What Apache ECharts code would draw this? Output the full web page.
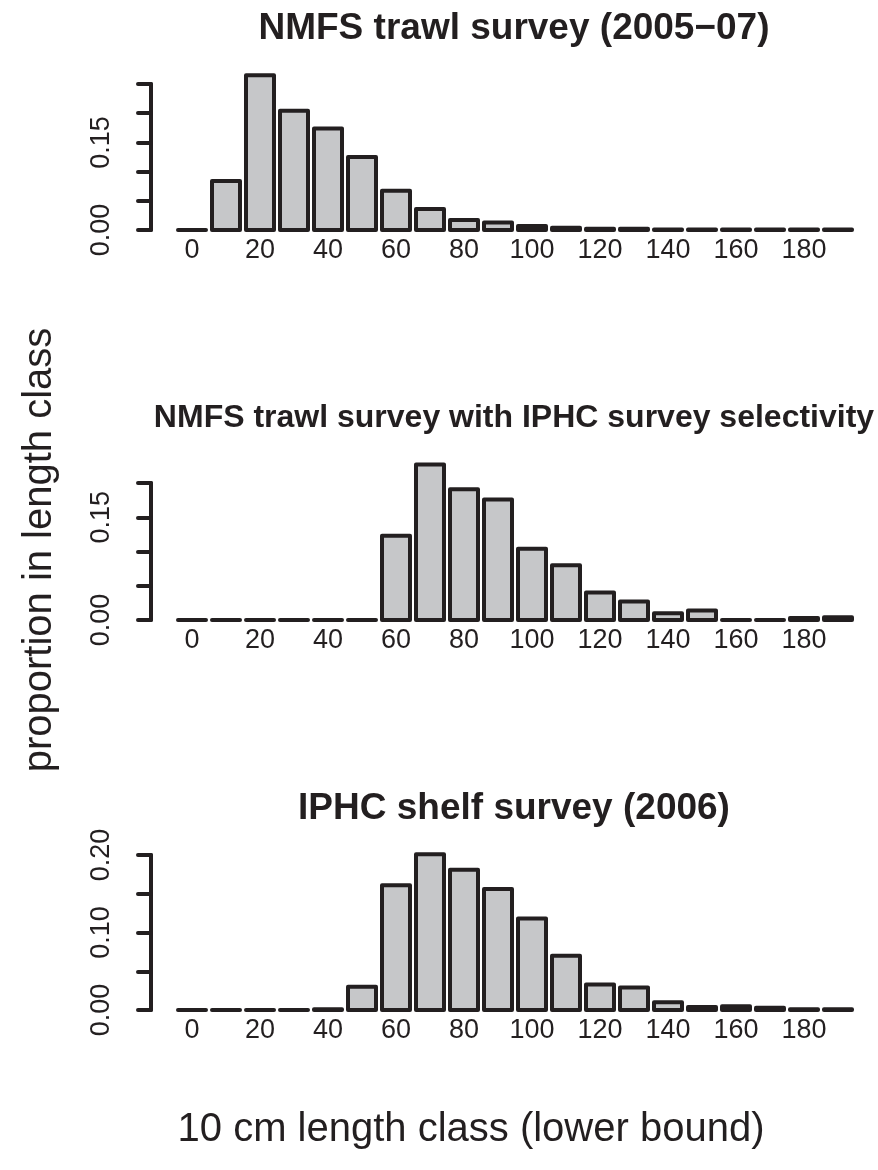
<!DOCTYPE html>
<html>
<head>
<meta charset="utf-8">
<script src="https://cdn.jsdelivr.net/npm/echarts@6/dist/echarts.min.js"></script>
<style>
html,body{margin:0;padding:0;background:#fff;}
#chart{width:878px;height:1170px;}
</style>
</head>
<body>
<div id="chart"></div>
<script>
// ---- data ----
const categories = ['0','10','20','30','40','50','60','70','80','90','100','110','120','130','140','150','160','170','180','190'];
const nmfsTrawl = [0.000, 0.084, 0.265, 0.204, 0.174, 0.125, 0.067, 0.036, 0.017, 0.013, 0.007, 0.004, 0.002, 0.002, 0.001, 0.001, 0.001, 0.001, 0.001, 0.001];
const nmfsWithIphcSel = [0.000, 0.000, 0.000, 0.000, 0.000, 0.000, 0.123, 0.227, 0.191, 0.176, 0.104, 0.080, 0.040, 0.027, 0.010, 0.014, 0.000, 0.000, 0.003, 0.004];
const iphcShelf = [0.000, 0.000, 0.000, 0.000, 0.001, 0.030, 0.161, 0.201, 0.181, 0.156, 0.118, 0.070, 0.033, 0.029, 0.010, 0.004, 0.005, 0.003, 0.001, 0.001];
const panelTitles = ['NMFS trawl survey (2005\u221207)', 'NMFS trawl survey with IPHC survey selectivity', 'IPHC shelf survey (2006)'];
const yTickLabels1 = ['0.00', '0.15'];
const yTickLabels2 = ['0.00', '0.15'];
const yTickLabels3 = ['0.00', '0.10', '0.20'];
const yAxisTop = [0.25, 0.20, 0.20];
const yLabel = 'proportion in length class';
const xLabel = '10 cm length class (lower bound)';

// ---- layout / style ----
const INK = '#231f20';
const FILL = '#c6c7c9';
const FONT = '"Liberation Sans", Arial, Helvetica, sans-serif';
const BAR_FRACTION = 28 / 34;
const grids = [
  {left: 175, width: 680, top: 84, height: 146},
  {left: 175, width: 680, top: 483, height: 137},
  {left: 175, width: 680, top: 855, height: 155}
];
const titleTops = [10, 402, 790];
const titleSizes = [37, 32, 37];
const seriesData = [nmfsTrawl, nmfsWithIphcSel, iphcShelf];
const shownLabels = [yTickLabels1, yTickLabels2, yTickLabels3];

const chart = echarts.init(document.getElementById('chart'), null, {renderer: 'canvas'});

function renderBar(params, api) {
  const idx = api.value(0);
  const val = api.value(1);
  const top = api.coord([idx, val]);
  const base = api.coord([idx, 0]);
  const w = api.size([1, 0])[0] * BAR_FRACTION;
  return {
    type: 'rect',
    shape: {x: top[0] - w / 2, y: top[1], width: w, height: base[1] - top[1]},
    style: {fill: FILL, stroke: INK, lineWidth: 4, lineJoin: 'round', lineCap: 'round'}
  };
}

const option = {
  backgroundColor: '#ffffff',
  animation: false,
  textStyle: {fontFamily: FONT, color: INK},
  title: panelTitles.map((t, i) => ({
    text: t,
    left: 514,
    textAlign: 'center',
    top: titleTops[i],
    padding: 0,
    textStyle: {fontFamily: FONT, fontWeight: 'bold', fontSize: titleSizes[i], color: INK}
  })),
  grid: grids.map(g => Object.assign({containLabel: false}, g)),
  xAxis: grids.map((g, i) => ({
    type: 'category',
    gridIndex: i,
    data: categories,
    boundaryGap: true,
    axisLine: {show: false},
    axisTick: {show: false},
    axisLabel: {interval: 1, margin: 7, fontSize: 27, fontFamily: FONT, color: INK}
  })),
  yAxis: grids.map((g, i) => ({
    type: 'value',
    gridIndex: i,
    min: 0,
    max: yAxisTop[i],
    interval: 0.05,
    offset: 24,
    splitLine: {show: false},
    axisLine: {show: true, lineStyle: {color: INK, width: 4, cap: 'round'}},
    axisTick: {show: true, length: 13, lineStyle: {color: INK, width: 4, cap: 'round'}},
    axisLabel: {
      rotate: 90,
      margin: 36,
      fontSize: 27,
      fontFamily: FONT,
      color: INK,
      formatter: v => { const s = v.toFixed(2); return shownLabels[i].includes(s) ? s : ''; }
    }
  })),
  series: seriesData.map((d, i) => ({
    type: 'custom',
    xAxisIndex: i,
    yAxisIndex: i,
    data: d.map((v, k) => [k, v]),
    encode: {x: 0, y: 1},
    renderItem: renderBar,
    clip: false,
    silent: true
  })),
  graphic: [
    {type: 'text', x: 40, y: 550, rotation: Math.PI / 2,
     style: {text: yLabel, font: '40px ' + FONT, fill: INK, textAlign: 'center', textVerticalAlign: 'middle'}},
    {type: 'text', x: 471, y: 1130,
     style: {text: xLabel, font: '40px ' + FONT, fill: INK, textAlign: 'center', textVerticalAlign: 'middle'}}
  ]
};
chart.setOption(option);
</script>
</body>
</html>
